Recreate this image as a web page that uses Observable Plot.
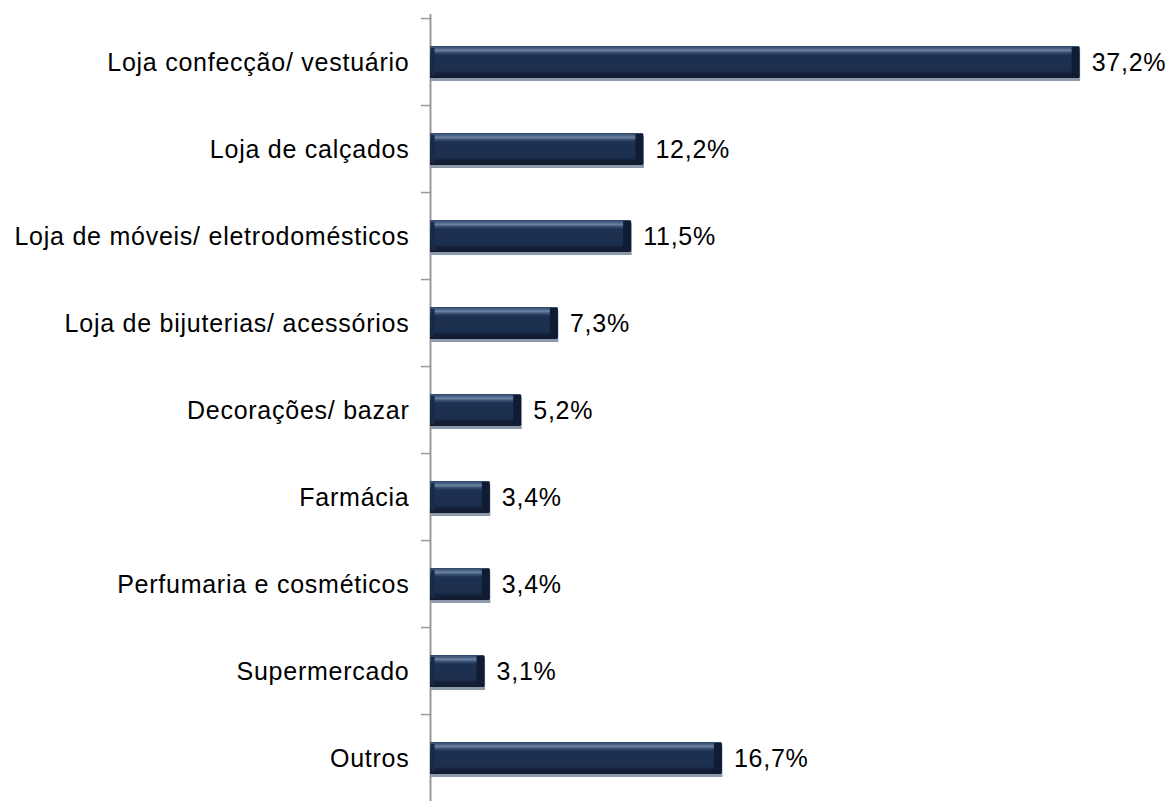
<!DOCTYPE html>
<html>
<head>
<meta charset="utf-8">
<script src="https://cdn.jsdelivr.net/npm/d3@7"></script>
<script src="https://cdn.jsdelivr.net/npm/@observablehq/plot@0.6"></script>
<style>
  html, body { margin: 0; padding: 0; background: #ffffff; }
  svg { display: block; }
  svg text { letter-spacing: 0.75px; }
</style>
</head>
<body>
<div id="chart"></div>
<script>
const categories = [
  "Loja confecção/ vestuário",
  "Loja de calçados",
  "Loja de móveis/ eletrodomésticos",
  "Loja de bijuterias/ acessórios",
  "Decorações/ bazar",
  "Farmácia",
  "Perfumaria e cosméticos",
  "Supermercado",
  "Outros"
];
const values = [37.2, 12.2, 11.5, 7.3, 5.2, 3.4, 3.4, 3.1, 16.7];
const valueLabels = ["37,2%", "12,2%", "11,5%", "7,3%", "5,2%", "3,4%", "3,4%", "3,1%", "16,7%"];

const data = categories.map((c, i) => ({ cat: c, value: values[i], label: valueLabels[i] }));

const step = (805 - 14) / categories.length;
const font = "'Liberation Sans', Arial, sans-serif";

const chart = Plot.plot({
  width: 1170,
  height: 801,
  marginTop: 14,
  marginBottom: 0,
  marginLeft: 0,
  marginRight: 0,
  style: { fontFamily: font, background: "#ffffff" },
  x: { domain: [0, 40], range: [430, 1128], axis: null },
  y: { domain: categories, range: [14, 805], paddingInner: 0.636, paddingOuter: 0.318, axis: null },
  marks: [
    // axis line
    Plot.ruleX([0], { stroke: "#9a9a9a", strokeWidth: 2 }),
    // ticks between categories
    Plot.ruleY(data, { y: "cat", x1: -0.52, x2: 0, dy: -step / 2, stroke: "#9a9a9a", strokeWidth: 1.5 }),
    // shadow
    Plot.barX(data, { y: "cat", x: "value", fill: "#8d9aac", dx: 1, dy: 3 }),
    // bar body
    Plot.barX(data, { y: "cat", x: "value", fill: "url(#barGrad)" }),
    // right bevel (dark)
    Plot.tickX(data, { y: "cat", x: "value", dx: -4, stroke: "#0f1c33", strokeWidth: 8, insetTop: 1, insetBottom: 1 }),
    // left bevel
    Plot.tickX(data, { y: "cat", x: 0, dx: 2, stroke: "#18294a", strokeWidth: 4, insetTop: 2, insetBottom: 2 }),
    // value labels
    Plot.text(data, { y: "cat", x: "value", text: "label", dx: 12, textAnchor: "start", fontSize: 25, fill: "#000000" }),
    // category labels
    Plot.text(data, { y: "cat", x: 0, text: "cat", dx: -21, textAnchor: "end", fontSize: 25, fill: "#000000" })
  ]
});

d3.select(chart).insert("defs", ":first-child").html(`
  <linearGradient id="barGrad" x1="0" y1="0" x2="0" y2="1">
    <stop offset="0%" stop-color="#2b4366"/>
    <stop offset="8%" stop-color="#4d6587"/>
    <stop offset="14%" stop-color="#6a82a2"/>
    <stop offset="20%" stop-color="#3b5375"/>
    <stop offset="28%" stop-color="#1d3152"/>
    <stop offset="78%" stop-color="#1b2e4d"/>
    <stop offset="86%" stop-color="#141f36"/>
    <stop offset="100%" stop-color="#121b2e"/>
  </linearGradient>
`);

document.getElementById("chart").appendChild(chart);
</script>
</body>
</html>
